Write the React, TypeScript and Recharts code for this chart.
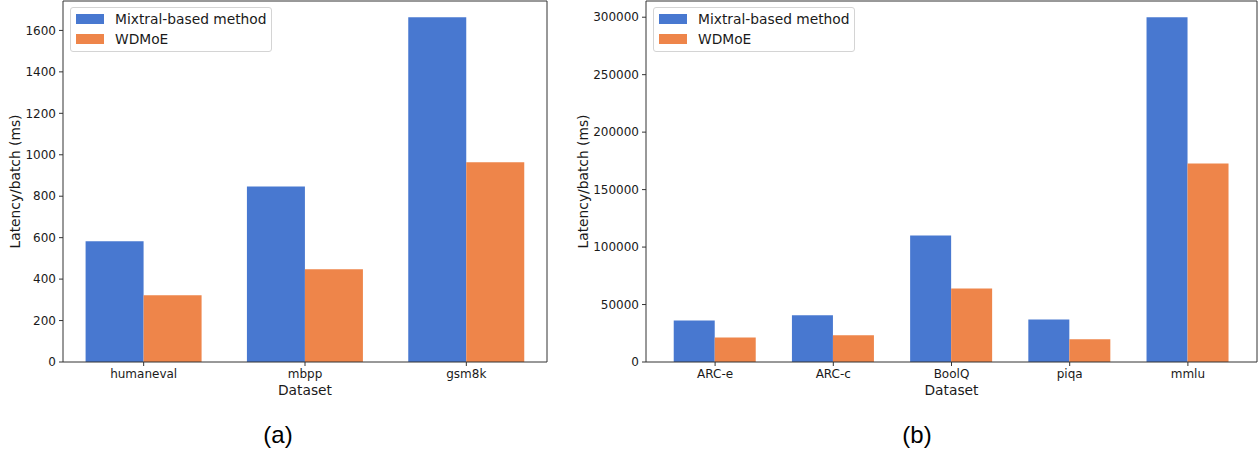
import React from 'react';
import { BarChart, Bar, XAxis, YAxis, Legend } from 'recharts';

const leftCategories = ['humaneval', 'mbpp', 'gsm8k'];
const leftMixtral = [583, 847, 1663];
const leftWdmoe = [322, 447, 964];
const leftTicks = [0, 200, 400, 600, 800, 1000, 1200, 1400, 1600];

const rightCategories = ['ARC-e', 'ARC-c', 'BoolQ', 'piqa', 'mmlu'];
const rightMixtral = [36100, 40600, 110100, 37000, 300000];
const rightWdmoe = [21300, 23200, 64000, 19700, 172700];
const rightTicks = [0, 50000, 100000, 150000, 200000, 250000, 300000];

const seriesNames = ['Mixtral-based method', 'WDMoE'];
const seriesColors = ['#4878d0', '#ee854a'];

const FONT = 'DejaVu Sans';
const TEXT = '#1a1a1a';
const SPINE = '#333';

function LegendBox() {
  return (
    <div
      style={{
        width: 202,
        height: 45,
        boxSizing: 'border-box',
        border: '1px solid #d4d4d4',
        borderRadius: 3,
        background: 'rgba(255,255,255,0.85)',
        position: 'relative',
        fontFamily: FONT,
        fontSize: 13.8,
        color: TEXT,
      }}
    >
      {seriesNames.map((n, i) => (
        <React.Fragment key={n}>
          <div
            style={{
              position: 'absolute',
              left: 5,
              top: 6 + i * 20,
              width: 28,
              height: 10,
              background: seriesColors[i],
            }}
          />
          <div
            style={{
              position: 'absolute',
              left: 44,
              top: 3 + i * 20,
              height: 16,
              lineHeight: '16px',
              whiteSpace: 'nowrap',
            }}
          >
            {n}
          </div>
        </React.Fragment>
      ))}
    </div>
  );
}

type PanelProps = {
  categories: string[];
  a: number[];
  b: number[];
  ticks: number[];
  domainMax: number;
  left: number;
  width: number;
  yAxisWidth: number;
  marginRight: number;
  pad: number;
  gap: string;
  legendLeft: number;
  yLabelOffset: number;
  caption: string;
  captionX: number;
};

function Panel(p: PanelProps) {
  const data = p.categories.map((c, i) => ({ name: c, mixtral: p.a[i], wdmoe: p.b[i] }));
  const height = 457;
  return (
    <>
      <div style={{ position: 'absolute', left: p.left, top: 0 }}>
        <BarChart
          width={p.width}
          height={height}
          data={data}
          margin={{ top: 0, right: p.marginRight - 1, bottom: 55, left: 0 }}
          barCategoryGap={p.gap}
          barGap={0}
          style={{ fontFamily: FONT }}
        >
          <XAxis
            dataKey="name"
            height={40}
            padding={{ left: p.pad, right: p.pad }}
            tickSize={4}
            tickMargin={3}
            tick={{ fontSize: 12, fill: TEXT, fontFamily: FONT }}
            tickLine={{ stroke: SPINE }}
            axisLine={{ stroke: SPINE }}
            interval={0}
            label={{ value: 'Dataset', position: 'insideBottom', offset: 7, style: { fontSize: 13.8, fill: TEXT, fontFamily: FONT } }}
          />
          <XAxis
            xAxisId="top"
            orientation="top"
            dataKey="name"
            height={1}
            tick={false}
            tickLine={false}
            axisLine={{ stroke: SPINE }}
          />
          <YAxis
            width={p.yAxisWidth}
            domain={[0, p.domainMax]}
            ticks={p.ticks}
            allowDataOverflow
            tickSize={4}
            tickMargin={3}
            tick={{ fontSize: 12, fill: TEXT, fontFamily: FONT }}
            tickLine={{ stroke: SPINE }}
            axisLine={{ stroke: SPINE }}
            label={{
              value: 'Latency/batch (ms)',
              angle: -90,
              position: 'insideLeft',
              offset: p.yLabelOffset,
              textAnchor: 'middle',
              style: { fontSize: 13.8, fill: TEXT, fontFamily: FONT, textAnchor: 'middle' },
            }}
          />
          <YAxis
            yAxisId="r"
            orientation="right"
            width={1}
            domain={[0, p.domainMax]}
            tick={false}
            tickLine={false}
            axisLine={{ stroke: SPINE }}
          />
          <Legend
            layout="vertical"
            align="center"
            verticalAlign="middle"
            wrapperStyle={{ position: 'absolute', left: p.legendLeft, top: 7, width: 'auto', height: 'auto' }}
            content={() => <LegendBox />}
          />
          <Bar dataKey="mixtral" name={seriesNames[0]} fill={seriesColors[0]} isAnimationActive={false} />
          <Bar dataKey="wdmoe" name={seriesNames[1]} fill={seriesColors[1]} isAnimationActive={false} />
        </BarChart>
      </div>
      <div
        style={{
          position: 'absolute',
          left: p.captionX - 40,
          width: 80,
          top: 419,
          textAlign: 'center',
          fontFamily: 'Liberation Sans',
          fontSize: 24,
          lineHeight: '32px',
          color: '#000',
        }}
      >
        {p.caption}
      </div>
    </>
  );
}

export default function App() {
  return (
    <div
      style={{
        position: 'absolute',
        left: 0,
        top: 0,
        width: 1260,
        height: 457,
        background: '#fff',
        overflow: 'hidden',
      }}
    >
      <Panel
        categories={leftCategories}
        a={leftMixtral}
        b={leftWdmoe}
        ticks={leftTicks}
        domainMax={1742}
        left={0}
        width={560}
        yAxisWidth={63}
        marginRight={13}
        pad={0}
        gap="14%"
        legendLeft={70}
        yLabelOffset={15}
        caption="(a)"
        captionX={278}
      />
      <Panel
        categories={rightCategories}
        a={rightMixtral}
        b={rightWdmoe}
        ticks={rightTicks}
        domainMax={314100}
        left={570}
        width={690}
        yAxisWidth={76}
        marginRight={3}
        pad={10}
        gap="15%"
        legendLeft={83}
        yLabelOffset={13}
        caption="(b)"
        captionX={917}
      />
    </div>
  );
}
